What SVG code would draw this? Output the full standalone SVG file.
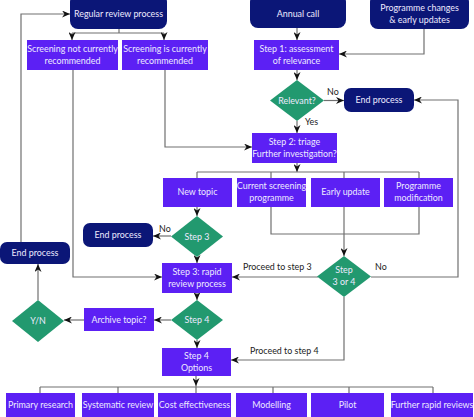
<svg xmlns="http://www.w3.org/2000/svg" width="474" height="417" viewBox="0 0 474 417">
<defs>
<style>
.nav{fill:#0b1677;}
.pur{fill:#5c20f4;}
.grn{fill:#22996f;}
.t{font-family:Lato,"Open Sans",sans-serif;font-size:8.9px;fill:#eeeaff;text-anchor:middle;}
.lb{font-family:Lato,"Open Sans",sans-serif;font-size:8.9px;fill:#222;}
.c path{fill:none;stroke:#707070;stroke-width:1.2;}
.c path.a{marker-end:url(#ah);}
</style>
<marker id="ah" markerUnits="userSpaceOnUse" markerWidth="9" markerHeight="7" refX="8" refY="3.5" orient="auto">
<path d="M0,0 L8,3.5 L0,7 L2.5,3.5 z" fill="#111"/>
</marker>
</defs>
<rect width="474" height="417" fill="#fff"/>
<g class="c">
<path d="M119,29 V33"/>
<path d="M72,33 H164"/>
<path class="a" d="M72,33 V40"/>
<path class="a" d="M164,33 V40"/>
<path class="a" d="M73,70 V277 H162"/>
<path class="a" d="M165,70 V147 H252"/>
<path class="a" d="M21,242 V14 H70"/>
<path class="a" d="M297,28 V40"/>
<path class="a" d="M424,29 V54 H339"/>
<path class="a" d="M297,70 V80"/>
<path class="a" d="M324,100.5 H344"/>
<path class="a" d="M297,121 V133"/>
<path class="a" d="M297,163 V172"/>
<path d="M197,172 H419 M197,172 V178 M271,172 V178 M344,172 V178 M419,172 V178"/>
<path class="a" d="M197,207 V216"/>
<path class="a" d="M171,236 H153"/>
<path class="a" d="M197,257 V263"/>
<path d="M271,207 V234 H419 V207"/>
<path class="a" d="M344,207 V256"/>
<path class="a" d="M318,277 H232"/>
<path class="a" d="M371,277 H458 V100 H414"/>
<path class="a" d="M344,297 V360 H231"/>
<path class="a" d="M197,293 V300"/>
<path class="a" d="M171,320 H154"/>
<path class="a" d="M84,320 H64"/>
<path class="a" d="M38,300 V264"/>
<path class="a" d="M197,340 V348"/>
<path class="a" d="M196,376 V386"/>
<path d="M40,387 H433 M40,387 V393 M118,387 V393 M196,386 V393 M273,387 V393 M349,387 V393 M433,387 V393"/>
</g>
<g id="regular"><rect class="nav" x="70" y="-6" width="97" height="35" rx="8"/><text class="t" x="118.5" y="17">Regular review process</text></g>
<g id="annual"><rect class="nav" x="250" y="-6" width="96" height="34" rx="8"/><text class="t" x="298" y="17">Annual call</text></g>
<g id="progchanges"><rect class="nav" x="370" y="-6" width="99" height="35" rx="8"/><text class="t" x="419.5" y="11">Programme changes</text><text class="t" x="419.5" y="23">&amp; early updates</text></g>
<g id="notrec"><rect class="pur" x="27" y="40" width="91" height="30"/><text class="t" x="72.5" y="52">Screening not currently</text><text class="t" x="72.5" y="64">recommended</text></g>
<g id="isrec"><rect class="pur" x="122" y="40" width="86" height="30"/><text class="t" x="165" y="52">Screening is currently</text><text class="t" x="165" y="64">recommended</text></g>
<g id="step1"><rect class="pur" x="254" y="40" width="85" height="30"/><text class="t" x="296.5" y="52">Step 1: assessment</text><text class="t" x="296.5" y="64">of relevance</text></g>
<g id="relevant"><polygon class="grn" points="297,80 324,100.5 297,121 270,100.5"/><text class="t" x="297" y="103.5">Relevant?</text></g>
<g id="end1"><rect class="nav" x="344" y="88" width="70" height="24" rx="7"/><text class="t" x="379" y="103">End process</text></g>
<g id="step2"><rect class="pur" x="252" y="133" width="85" height="30"/><text class="t" x="294.5" y="145">Step 2: triage</text><text class="t" x="294.5" y="157">Further investigation?</text></g>
<g id="newtopic"><rect class="pur" x="163" y="178" width="69" height="29"/><text class="t" x="197.5" y="195">New topic</text></g>
<g id="current"><rect class="pur" x="237" y="178" width="69" height="29"/><text class="t" x="271.5" y="189">Current screening</text><text class="t" x="271.5" y="201">programme</text></g>
<g id="early"><rect class="pur" x="311" y="178" width="69" height="29"/><text class="t" x="345.5" y="195">Early update</text></g>
<g id="progmod"><rect class="pur" x="384" y="178" width="69" height="29"/><text class="t" x="418.5" y="189">Programme</text><text class="t" x="418.5" y="201">modification</text></g>
<g id="step3"><polygon class="grn" points="197,216 223,236.5 197,257 171,236.5"/><text class="t" x="197" y="239.5">Step 3</text></g>
<g id="end2"><rect class="nav" x="83" y="223" width="70" height="24" rx="7"/><text class="t" x="118" y="238">End process</text></g>
<g id="end3"><rect class="nav" x="0" y="242" width="70" height="22" rx="7"/><text class="t" x="35" y="256">End process</text></g>
<g id="step34"><polygon class="grn" points="344,256 371,276.5 344,297 317,276.5"/><text class="t" x="344" y="273">Step</text><text class="t" x="344" y="285">3 or 4</text></g>
<g id="rapid"><rect class="pur" x="162" y="263" width="70" height="30"/><text class="t" x="197" y="275">Step 3: rapid</text><text class="t" x="197" y="287">review process</text></g>
<g id="step4"><polygon class="grn" points="197,300 223,320 197,340 171,320"/><text class="t" x="197" y="323">Step 4</text></g>
<g id="archive"><rect class="pur" x="84" y="308" width="70" height="23"/><text class="t" x="119" y="322.5">Archive topic?</text></g>
<g id="yn"><polygon class="grn" points="38,300 64,321 38,342 12,321"/><text class="t" x="38" y="324">Y/N</text></g>
<g id="options"><rect class="pur" x="162" y="348" width="69" height="28"/><text class="t" x="196.5" y="359">Step 4</text><text class="t" x="196.5" y="371">Options</text></g>
<g id="primary"><rect class="pur" x="6" y="393" width="69" height="24"/><text class="t" x="40.5" y="407.5">Primary research</text></g>
<g id="systematic"><rect class="pur" x="82" y="393" width="72" height="24"/><text class="t" x="118" y="407.5">Systematic review</text></g>
<g id="cost"><rect class="pur" x="158" y="393" width="73" height="24"/><text class="t" x="194.5" y="407.5">Cost effectiveness</text></g>
<g id="modelling"><rect class="pur" x="236" y="393" width="71" height="24"/><text class="t" x="271.5" y="407.5">Modelling</text></g>
<g id="pilot"><rect class="pur" x="311" y="393" width="73" height="24"/><text class="t" x="347.5" y="407.5">Pilot</text></g>
<g id="further"><rect class="pur" x="391" y="393" width="82" height="24"/><text class="t" x="432" y="407.5">Further rapid reviews</text></g>
<g id="labels">
<text class="lb" x="327" y="95">No</text>
<text class="lb" x="305" y="125">Yes</text>
<text class="lb" x="159" y="232">No</text>
<text class="lb" x="243" y="270">Proceed to step 3</text>
<text class="lb" x="375" y="270">No</text>
<text class="lb" x="250" y="354">Proceed to step 4</text>
</g>
</svg>
